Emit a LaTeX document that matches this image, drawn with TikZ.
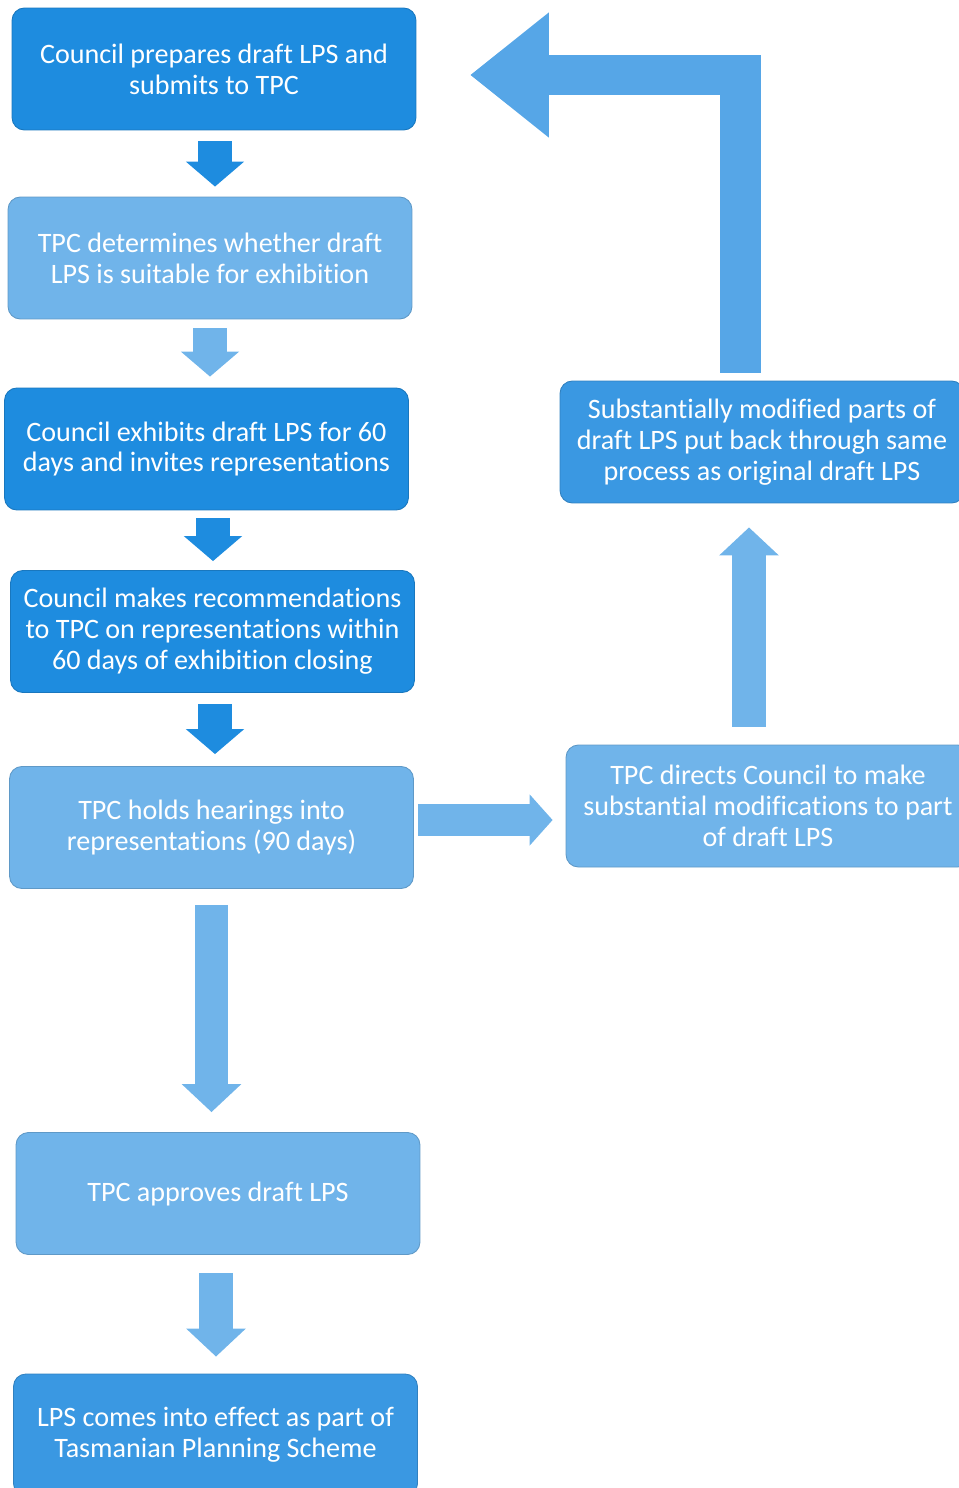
\documentclass[tikz,border=0pt]{standalone}
\usepackage{fontspec}
\setmainfont{Carlito}[Ligatures=NoCommon]
\usetikzlibrary{arrows.meta}
\definecolor{deepblue}{RGB}{30,140,223}
\definecolor{midblue}{RGB}{58,152,226}
\definecolor{paleblue}{RGB}{112,180,234}
\definecolor{loopblue}{RGB}{86,166,231}

\begin{document}
\begin{tikzpicture}[x=0.02cm, y=-0.02cm,
  box/.style={rounded corners=7pt, line width=0.5pt, text=white, align=center,
    minimum width=8.08cm, minimum height=2.44cm, font=\fontsize{16}{17.6}\selectfont},
  dark/.style={box, fill=deepblue, draw=deepblue!85!black},
  medium/.style={box, fill=midblue, draw=midblue!85!black},
  light/.style={box, fill=paleblue, draw=paleblue!85!black},
  fat/.style={line width=0.7cm, -{Triangle[width=1.14cm, length=0.5cm]}},
  longfat/.style={line width=0.68cm, -{Triangle[width=1.16cm, length=0.56cm]}}]
  \useasboundingbox (0,0) rectangle (959,1488);
  % left column
  \node[dark] (prep) at (214,69) {Council prepares draft LPS and\\submits to TPC};
  \node[light] (suit) at (210,258) {TPC determines whether draft\\LPS is suitable for exhibition};
  \node[dark] (exhib) at (206.5,449) {Council exhibits draft LPS for 60\\days and invites representations};
  \node[dark] (recom) at (212.5,631.5) {Council makes recommendations\\to TPC on representations within\\60 days of exhibition closing};
  \node[light] (hear) at (211.5,827.5) {TPC holds hearings into\\representations (90 days)};
  \node[light] (appr) at (218,1193.5) {TPC approves draft LPS};
  \node[medium] (effect) at (215.5,1435) {LPS comes into effect as part of\\Tasmanian Planning Scheme};
  % right column
  \node[medium] (sub) at (762,442) {Substantially modified parts of\\draft LPS put back through same\\process as original draft LPS};
  \node[light] (direct) at (768,806) {TPC directs Council to make\\substantial modifications to part\\of draft LPS};
  \coordinate (backtip) at (470,75);
  % block arrows
  \draw[fat, deepblue, shorten <=0.22cm, shorten >=0.2cm] ([xshift=0.02cm]prep.south) -- ([xshift=0.02cm]prep.south |- suit.north);
  \draw[fat, paleblue, shorten <=0.18cm, shorten >=0.22cm] (suit.south) -- (suit.south |- exhib.north);
  \draw[fat, deepblue, shorten <=0.16cm, shorten >=0.18cm] ([xshift=0.13cm]exhib.south) -- ([xshift=0.13cm]exhib.south |- recom.north);
  \draw[fat, deepblue, shorten <=0.22cm, shorten >=0.24cm] ([xshift=0.05cm]recom.south) -- ([xshift=0.05cm]recom.south |- hear.north);
  \draw[longfat, paleblue, shorten <=0.32cm, shorten >=0.4cm] (hear.south) -- (hear.south |- appr.north);
  \draw[longfat, paleblue, shorten <=0.36cm, shorten >=0.34cm] ([xshift=-0.04cm]appr.south) -- ([xshift=-0.04cm]appr.south |- effect.north);
  \draw[paleblue, line width=0.64cm, -{Triangle[width=1cm, length=0.46cm]}, shorten <=0.08cm, shorten >=0.26cm]
    ([yshift=0.15cm]hear.east) -- ([yshift=0.15cm]hear.east -| direct.west);
  \draw[longfat, paleblue, shorten <=0.36cm, shorten >=0.48cm] ([xshift=-0.38cm]direct.north) -- ([xshift=-0.38cm]direct.north |- sub.south);
  \draw[loopblue, line width=0.81cm, line join=miter, -{Triangle[width=2.4cm, length=1.58cm]}, shorten <=0.16cm]
    ([xshift=-0.43cm]sub.north) |- (backtip);
\end{tikzpicture}
\end{document}
